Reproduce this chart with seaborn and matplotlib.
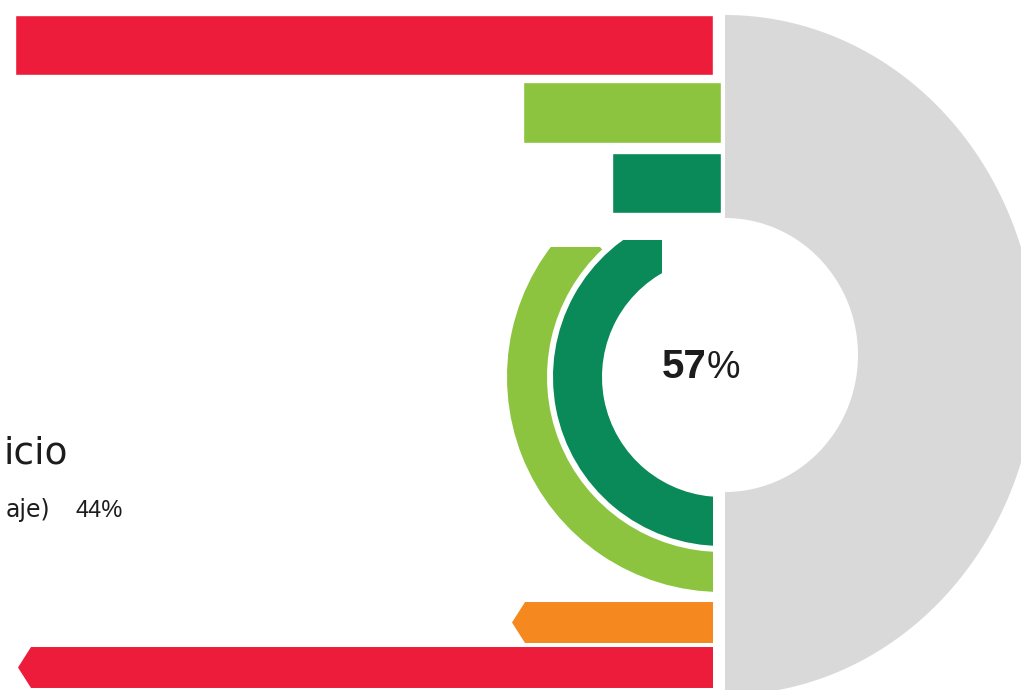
import numpy as np
import matplotlib
matplotlib.use("Agg")
import matplotlib.pyplot as plt
import seaborn as sns
from matplotlib.patches import Wedge, Polygon, Rectangle

# ---- values -------------------------------------------------------------
top_labels = ["rojo"]
top_values = [698]

green_labels = ["verde claro", "verde oscuro"]
green_values = [198, 109]

bottom_labels = ["naranja", "rojo inferior"]
bottom_values = [201, 695]

arc_labels = ["verde oscuro", "verde claro"]
arc_share = [0.44, 0.38]          # share of a full turn

center_value = 57
side_value = 44
title_text = "icio"
subtitle_text = "aje)"

# ---- styling ------------------------------------------------------------
RED = "#EC1C3A"
LGREEN = "#8CC43F"
DGREEN = "#0A8A58"
ORANGE = "#F5891F"
GRAY = "#D9D9D9"
INK = "#1C1C1C"

sns.set_theme(style="white")
plt.rcParams["font.family"] = ["DejaVu Sans"]

W, H = 1021, 690
fig = plt.figure(figsize=(W / 100, H / 100), dpi=100)
fig.patch.set_facecolor("white")

base = fig.add_axes([0, 0, 1, 1])
base.set_xlim(0, W)
base.set_ylim(H, 0)
base.axis("off")


def px_axes(left, top, right, bottom):
    ax = fig.add_axes([left / W, 1 - bottom / H, (right - left) / W, (bottom - top) / H])
    ax.patch.set_alpha(0)
    return ax


def bar_group(box, labels, values, colors, origin, width, tip=0):
    ax = px_axes(*box)
    sns.barplot(x=values, y=labels, hue=labels,
                palette=dict(zip(labels, colors)), orient="h",
                width=width, saturation=1, legend=False, ax=ax)
    ax.set_xlim(origin - box[0], origin - box[2])
    ax.set_ylim(len(labels) - 0.5, -0.5)
    if tip:
        for p in list(ax.patches):
            x0, y0 = p.get_x(), p.get_y()
            w, h = p.get_width(), p.get_height()
            x1 = x0 + w
            pts = [(x0, y0), (x1 - tip, y0), (x1, y0 + h / 2),
                   (x1 - tip, y0 + h), (x0, y0 + h)]
            ax.add_patch(Polygon(pts, closed=True, fc=p.get_facecolor(), ec="none"))
            p.set_visible(False)
    ax.axis("off")
    return ax


# ---- gray half ring -----------------------------------------------------
cx, cy = 725, 355
t = np.linspace(-np.pi / 2, np.pi / 2, 300)
outer = np.c_[cx + 312 * np.cos(t), cy + 340 * np.sin(t)]
inner = np.c_[cx + 133 * np.cos(t[::-1]), cy + 137 * np.sin(t[::-1])]
base.add_patch(Polygon(np.vstack([outer, inner]), closed=True, fc=GRAY, ec="none"))

# ---- green arcs ---------------------------------------------------------
acx, acy = 722, 377
arc_radii = {"verde oscuro": (120, 169), "verde claro": (175, 215)}
arc_colors = {"verde oscuro": DGREEN, "verde claro": LGREEN}
arc_clips = {
    "verde oscuro": Polygon([(0, 240), (662, 240), (662, 300), (713, 300),
                             (713, H), (0, H)], closed=True,
                            transform=base.transData),
    "verde claro": Rectangle((0, 247), 713, H - 247, transform=base.transData),
}
for lab, share in zip(arc_labels, arc_share):
    r_in, r_out = arc_radii[lab]
    wdg = Wedge((acx, acy), r_out, 90, 90 + share * 360, width=r_out - r_in,
                fc=arc_colors[lab], ec="none")
    base.add_patch(wdg)
    wdg.set_clip_path(arc_clips[lab])

# ---- bars ---------------------------------------------------------------
bar_group((0, 7.5, W, 82.5), top_labels, top_values, [RED], 713, 0.8)
bar_group((0, 77.25, W, 218.25), green_labels, green_values, [LGREEN, DGREEN], 721, 0.855)
bar_group((0, 600, W, 690), bottom_labels, bottom_values, [ORANGE, RED], 713, 0.91, tip=13)

# ---- text ---------------------------------------------------------------
base.text(68, 464, title_text, ha="right", va="baseline", fontsize=27, color=INK)
base.text(50, 517, subtitle_text, ha="right", va="baseline", fontsize=17, color=INK)
base.text(75, 517, f"{side_value}%", ha="left", va="baseline", fontsize=17,
          family="Liberation Sans", color=INK)
base.text(707, 378, f"{center_value}", ha="right", va="baseline", fontsize=29,
          weight="bold", family="Liberation Sans", color=INK)
base.text(707, 378, "%", ha="left", va="baseline", fontsize=27,
          family="Liberation Sans", color=INK)

fig.savefig("out.png", dpi=100, facecolor="white")
